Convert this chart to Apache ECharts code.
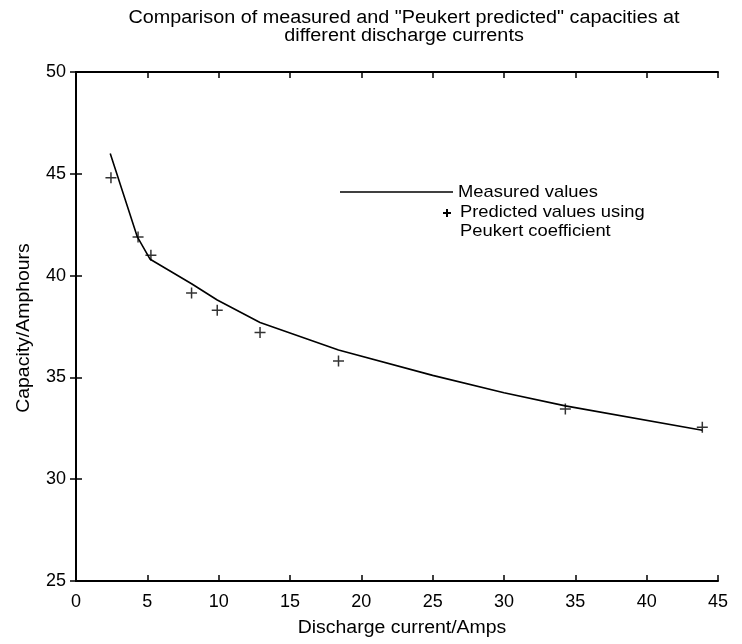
<!DOCTYPE html>
<html><head><meta charset="utf-8">
<script src="https://cdn.jsdelivr.net/npm/echarts@6/dist/echarts.min.js"></script>
<style>html,body{margin:0;padding:0;background:#fff}#c{width:742px;height:644px}</style>
</head><body><div id="c"></div>
<script>
const measuredX = [2.4, 4.3, 5.2, 8.1, 9.9, 12.9, 18.4, 25, 30, 34.3, 43.9];
const measuredY = [46.0, 41.9, 40.8, 39.6, 38.8, 37.7, 36.35, 35.1, 34.25, 33.6, 32.4];
const predictedX = [2.45, 4.35, 5.25, 8.1, 9.9, 12.9, 18.4, 34.3, 43.9];
const predictedY = [44.8, 41.9, 41.0, 39.15, 38.3, 37.2, 35.8, 33.45, 32.55];
const xTicks = [0, 5, 10, 15, 20, 25, 30, 35, 40, 45];
const yTicks = [25, 30, 35, 40, 45, 50];
const titleLines = ['Comparison of measured and "Peukert predicted" capacities at', 'different discharge currents'];
const xName = 'Discharge current/Amps';
const yName = 'Capacity/Amphours';
const legendNames = ['Measured values', 'Predicted values using', 'Peukert coefficient'];

const font = 'Liberation Sans, Arial, sans-serif';
const chart = echarts.init(document.getElementById('c'));
const plus = 'path://M0,5 L10,5 M5,0 L5,10';
const axisCommon = {
  axisLine: {show: true, lineStyle: {color: '#000', width: 2}},
  axisTick: {show: true, inside: true, length: 6, lineStyle: {color: '#000', width: 1.5}},
  splitLine: {show: false}
};
function txt(text, x, y, size, align, extra) {
  return Object.assign({type: 'text', x: x, y: y, scaleX: 1.08, silent: true,
    style: {text: text, font: size + 'px ' + font, fill: '#000', textAlign: align || 'center', textVerticalAlign: 'middle'}}, extra || {});
}
chart.setOption({
  backgroundColor: '#fff',
  animation: false,
  grid: {left: 76, right: 24, top: 72, bottom: 63},
  xAxis: [
    Object.assign({type: 'value', min: xTicks[0], max: xTicks[xTicks.length-1], interval: 5,
      axisLabel: {fontFamily: font, fontSize: 18, color: '#000', margin: 12}}, axisCommon),
    Object.assign({type: 'value', position: 'top', min: 0, max: 45, interval: 5,
      axisLabel: {show: false}}, axisCommon)
  ],
  yAxis: [
    Object.assign({type: 'value', min: yTicks[0], max: yTicks[yTicks.length-1], interval: 5,
      axisLabel: {fontFamily: font, fontSize: 18, color: '#000', margin: 10}}, axisCommon),
    Object.assign({type: 'value', position: 'right', min: 25, max: 50, interval: 5,
      axisLabel: {show: false}}, axisCommon)
  ],
  series: [
    {type: 'line', name: legendNames[0], data: measuredX.map((x, i) => [x, measuredY[i]]),
      showSymbol: false, lineStyle: {color: '#000', width: 1.6}, z: 2},
    {type: 'scatter', name: legendNames[1], data: predictedX.map((x, i) => [x, predictedY[i]]),
      symbol: plus, symbolSize: 11,
      itemStyle: {color: 'none', borderColor: '#000', borderWidth: 1.5}, z: 3}
  ],
  graphic: [
    txt(titleLines[0], 404, 18, 18, 'center', {scaleX: 1.1}),
    txt(titleLines[1], 404, 36, 18, 'center', {scaleX: 1.1}),
    txt(xName, 402, 628, 18),
    txt(yName, 24, 328, 18, 'center', {rotation: Math.PI / 2}),
    {type: 'line', shape: {x1: 340, y1: 192, x2: 453, y2: 192}, style: {stroke: '#000', lineWidth: 1.5}},
    txt(legendNames[0], 458, 192, 17, 'left'),
    {type: 'line', shape: {x1: 443, y1: 213, x2: 451, y2: 213}, style: {stroke: '#000', lineWidth: 2}},
    {type: 'line', shape: {x1: 447, y1: 209, x2: 447, y2: 217}, style: {stroke: '#000', lineWidth: 2}},
    txt(legendNames[1], 460, 212, 17, 'left'),
    txt(legendNames[2], 460, 231, 17, 'left')
  ]
});
</script></body></html>
